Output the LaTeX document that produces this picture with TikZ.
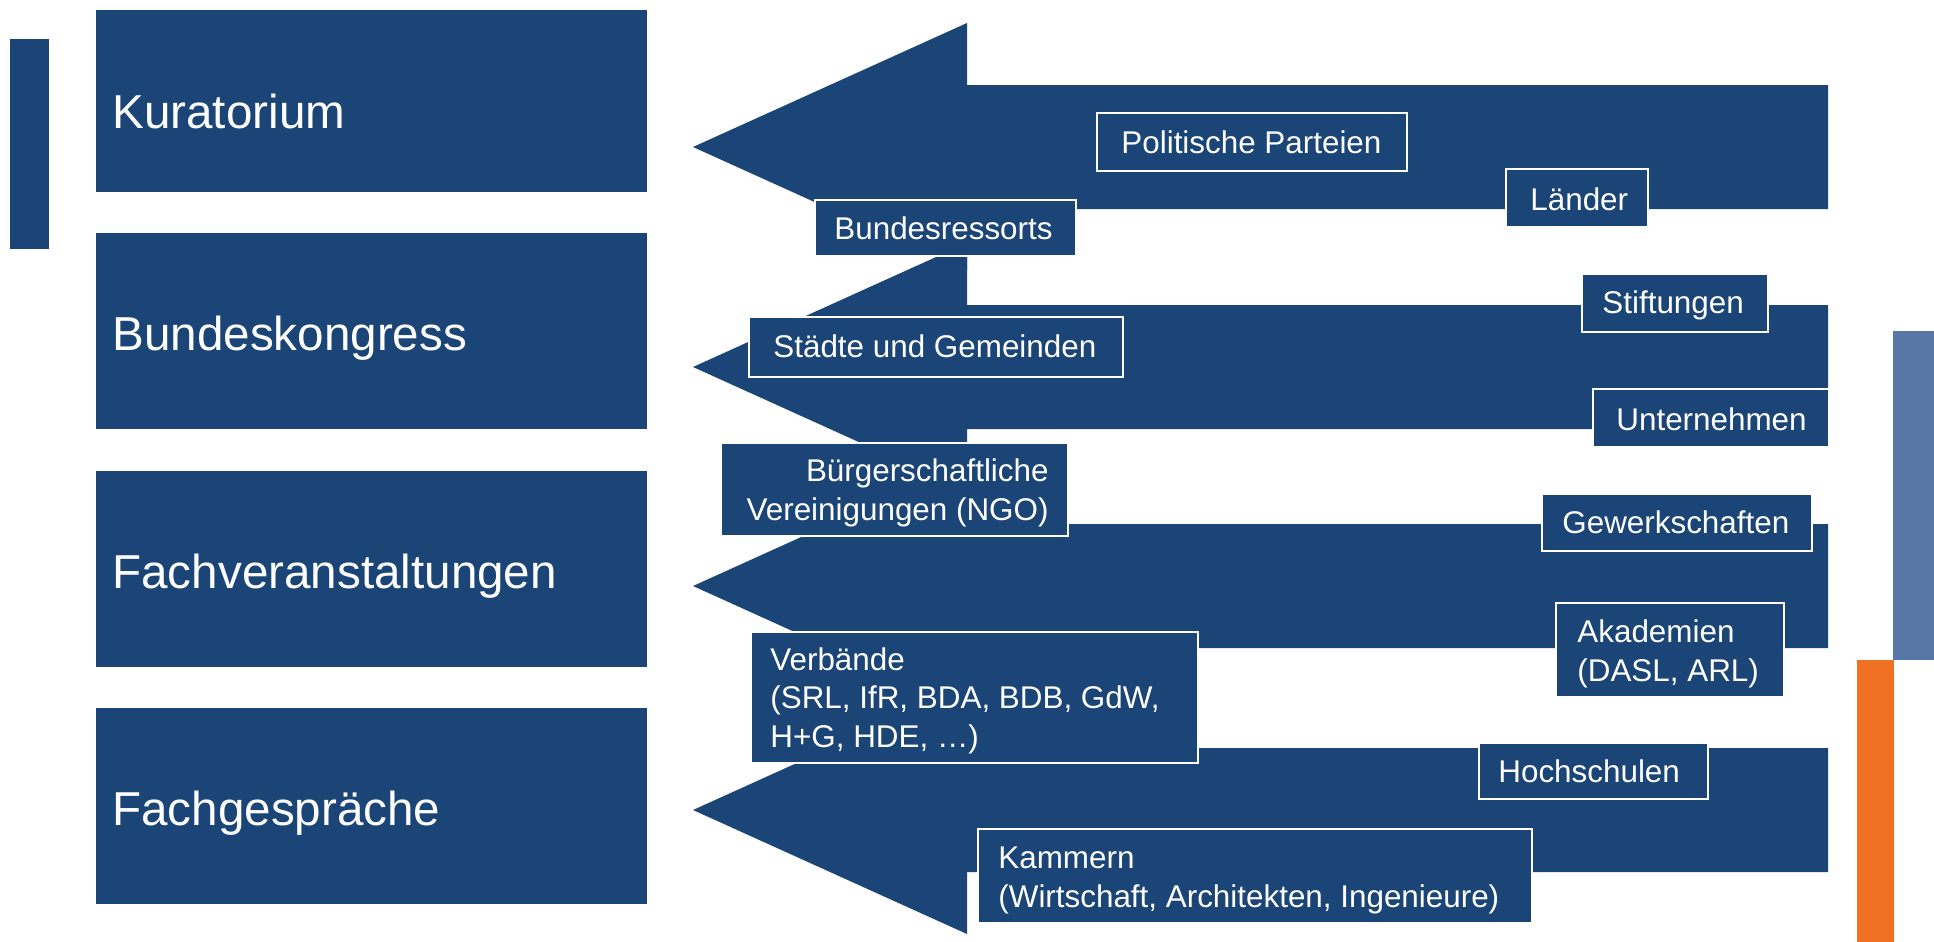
\documentclass[tikz,border=0pt]{standalone}
\usepackage{fontspec}
\setmainfont{Liberation Sans}
\usetikzlibrary{fit}
\definecolor{dblue}{RGB}{27,69,118}
\definecolor{gblue}{RGB}{88,118,166}
\definecolor{orng}{RGB}{240,113,35}
\begin{document}
\begin{tikzpicture}[x=0.5pt,y=-0.5pt,
  bigbox/.style={fill=dblue, draw=none, inner sep=0pt},
  lblbox/.style={fill=dblue, draw=white, line width=1.25pt, inner sep=0pt},
  bigtxt/.style={text=white, font=\fontsize{23.8pt}{28pt}\selectfont, inner sep=0pt, anchor=base west},
  smtxt/.style={text=white, font=\fontsize{15.7pt}{19.2pt}\selectfont, inner sep=0pt, anchor=base west, align=left},
  bararrow/.style={fill=dblue},
  sidebar/.style={inner sep=0pt, draw=none}]
\useasboundingbox (0,0) rectangle (1934,942);

% side bars
\node[sidebar, fill=dblue, fit={(10,39) (49,249)}] (barL) {};
\node[sidebar, fill=gblue, fit={(1893,331) (1934,660)}] (barR1) {};
\node[sidebar, fill=orng, fit={(1857,660) (1894,942)}] (barR2) {};

% left boxes
\node[bigbox, fit={(96,10) (647,192)}] (kur) {};
\node[bigbox, fit={(96,233) (647,429)}] (bk) {};
\node[bigbox, fit={(96,471) (647,667)}] (fv) {};
\node[bigbox, fit={(96,708) (647,904)}] (fg) {};
\node[bigtxt] (kurT) at (112,128) {Kuratorium};
\node[bigtxt] (bkT) at (112,350) {Bundeskongress};
\node[bigtxt] (fvT) at (112,588) {Fachveranstaltungen};
\node[bigtxt] (fgT) at (112,825) {Fachgespräche};

% block arrows
\foreach \n/\yy in {1/147,2/367,3/586,4/810}{
  \coordinate (tip\n) at (693,\yy);
  \fill[bararrow] (tip\n) -- ++(274,-124) -- ++(0,62) -- ++(861,0) -- ++(0,124)
     -- ++(-861,0) -- ++(0,62) -- cycle;
}

% labels
\node[lblbox, fit={(1097,113) (1407,171)}] (pp) {};
\node[smtxt] (ppT) at (1121,153) {Politische Parteien};
\node[lblbox, fit={(1506,169) (1648,227)}] (la) {};
\node[smtxt] (laT) at (1530,210) {Länder};
\node[lblbox, fit={(815,200) (1076,256)}] (br) {};
\node[smtxt] (brT) at (834,239) {Bundesressorts};
\node[lblbox, fit={(1582,274) (1768,332)}] (st) {};
\node[smtxt] (stT) at (1602,313) {Stiftungen};
\node[lblbox, fit={(749,317) (1123,377)}] (sg) {};
\node[smtxt] (sgT) at (773,357) {Städte und Gemeinden};
\node[lblbox, fit={(1593,389) (1829,447)}] (un) {};
\node[smtxt] (unT) at (1616,430) {Unternehmen};
\node[lblbox, fit={(721,443) (1068,536)}] (ngo) {};
\node[smtxt, anchor=base east, align=right] (ngoT) at (1049,520) {Bürgerschaftliche\\Vereinigungen (NGO)};
\node[lblbox, fit={(1542,494) (1812,551)}] (gw) {};
\node[smtxt] (gwT) at (1562,533) {Gewerkschaften};
\node[lblbox, fit={(1556,603) (1784,697)}] (ak) {};
\node[smtxt] (akT) at (1577,681) {Akademien\\(DASL, ARL)};
\node[lblbox, fit={(751,632) (1198,763)}] (vb) {};
\node[smtxt] (vbT) at (770,747) {Verbände\\(SRL, IfR, BDA, BDB, GdW,\\H+G, HDE, \dots)};
\node[lblbox, fit={(1479,743) (1708,799)}] (hs) {};
\node[smtxt] (hsT) at (1498,782) {Hochschulen};
\node[lblbox, fit={(978,829) (1532,923)}] (ka) {};
\node[smtxt] (kaT) at (998,907) {Kammern\\(Wirtschaft, Architekten, Ingenieure)};
\end{tikzpicture}
\end{document}
